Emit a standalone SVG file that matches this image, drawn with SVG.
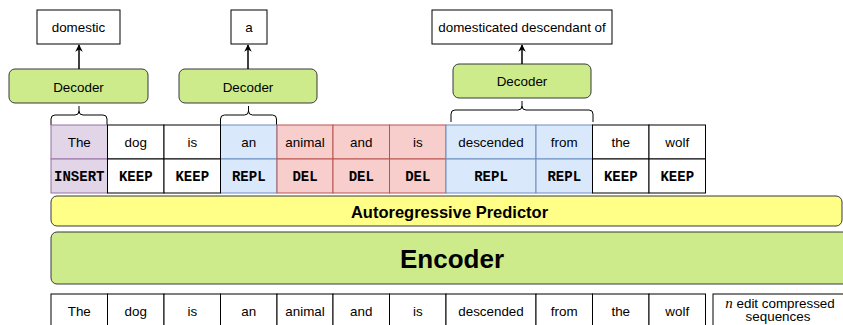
<svg xmlns="http://www.w3.org/2000/svg" width="843" height="325" viewBox="0 0 843 325">
  <style>
    .t { font-family: "Liberation Sans", Arial, sans-serif; font-size: 13.4px; fill: #000; text-anchor: middle; }
    .m { font-family: "Liberation Mono", "Courier New", monospace; font-size: 14px; font-weight: bold; fill: #000; text-anchor: middle; }
    .box { fill: #fff; stroke: #000; stroke-width: 1; }
    .dec { fill: #cdeb8b; stroke: #36393d; stroke-width: 1; }
    .pur { fill: #e1d5e7; stroke: #9673a6; stroke-width: 1; }
    .blu { fill: #dae8fc; stroke: #6c8ebf; stroke-width: 1; }
    .red { fill: #f8cecc; stroke: #b85450; stroke-width: 1; }
    .wht { fill: #fff; stroke: #000; stroke-width: 1; }
    .edge { fill: none; stroke: #000; stroke-width: 1.5; }
    .brace { fill: none; stroke: #000; stroke-width: 1; }
  </style>
  <defs>
    <marker id="arrow" viewBox="0 0 10 10" refX="9" refY="5" markerWidth="5" markerHeight="5" orient="auto" markerUnits="strokeWidth">
      <path d="M0,0 L10,5 L0,10 L3,5 Z" fill="#000"/>
    </marker>
  </defs>
  <rect width="843" height="325" fill="#fff"/>

  <!-- output boxes -->
  <g id="out-domestic">
    <rect class="box" x="37" y="10" width="83" height="34"/>
    <text class="t" x="78.5" y="32">domestic</text>
  </g>
  <g id="out-a">
    <rect class="box" x="231" y="10" width="36" height="34"/>
    <text class="t" x="249" y="32">a</text>
  </g>
  <g id="out-domesticated">
    <rect class="box" x="432" y="10" width="180" height="34"/>
    <text class="t" x="522" y="32">domesticated descendant of</text>
  </g>

  <!-- decoders -->
  <g id="decoder-1">
    <rect class="dec" x="9" y="69" width="139" height="34" rx="6"/>
    <text class="t" x="78.5" y="92">Decoder</text>
  </g>
  <g id="decoder-2">
    <rect class="dec" x="179" y="69" width="138" height="34" rx="6"/>
    <text class="t" x="248" y="92">Decoder</text>
  </g>
  <g id="decoder-3">
    <rect class="dec" x="453" y="64" width="138" height="34" rx="6"/>
    <text class="t" x="522" y="86">Decoder</text>
  </g>

  <!-- connectors -->
  <g id="connectors">
    <line class="edge" x1="79" y1="69" x2="79" y2="45" marker-end="url(#arrow)"/>
    <line class="edge" x1="248" y1="69" x2="248" y2="45" marker-end="url(#arrow)"/>
    <line class="edge" x1="522" y1="64" x2="522" y2="45" marker-end="url(#arrow)"/>
  </g>

  <!-- braces -->
  <g id="braces">
    <path class="brace" d="M51,125 V119 Q51,115 55,115 H75 Q79,115 79,111 V106 M79,111 Q79,115 83,115 H103 Q107,115 107,119 V125"/>
    <path class="brace" d="M220.5,125 V119 Q220.5,115 224.5,115 H244.5 Q248.5,115 248.5,111 V106 M248.5,111 Q248.5,115 252.5,115 H272.5 Q276.5,115 276.5,119 V125"/>
    <path class="brace" d="M451,122 V114 Q451,110 455,110 H518 Q522,110 522,106 V101 M522,106 Q522,110 526,110 H589 Q593,110 593,114 V122"/>
  </g>

  <!-- edit table -->
  <g id="edit-table">
    <rect class="pur" x="51" y="125" width="56.5" height="34"/>
    <rect class="pur" x="51" y="159" width="56.5" height="34"/>
    <rect class="blu" x="220.5" y="125" width="56.5" height="34"/>
    <rect class="blu" x="220.5" y="159" width="56.5" height="34"/>
    <rect class="red" x="277" y="125" width="56" height="34"/>
    <rect class="red" x="277" y="159" width="56" height="34"/>
    <rect class="red" x="333" y="125" width="56.5" height="34"/>
    <rect class="red" x="333" y="159" width="56.5" height="34"/>
    <rect class="red" x="389.5" y="125" width="56.5" height="34"/>
    <rect class="red" x="389.5" y="159" width="56.5" height="34"/>
    <rect class="blu" x="446" y="125" width="90" height="34"/>
    <rect class="blu" x="446" y="159" width="90" height="34"/>
    <rect class="blu" x="536" y="125" width="56.5" height="34"/>
    <rect class="blu" x="536" y="159" width="56.5" height="34"/>
    <rect class="wht" x="107.5" y="125" width="56.5" height="34"/>
    <rect class="wht" x="107.5" y="159" width="56.5" height="34"/>
    <rect class="wht" x="164" y="125" width="56.5" height="34"/>
    <rect class="wht" x="164" y="159" width="56.5" height="34"/>
    <rect class="wht" x="592.5" y="125" width="56.5" height="34"/>
    <rect class="wht" x="592.5" y="159" width="56.5" height="34"/>
    <rect class="wht" x="649" y="125" width="56.5" height="34"/>
    <rect class="wht" x="649" y="159" width="56.5" height="34"/>

    <text class="t" x="79.25" y="146.5">The</text>
    <text class="t" x="135.75" y="146.5">dog</text>
    <text class="t" x="192.25" y="146.5">is</text>
    <text class="t" x="248.75" y="146.5">an</text>
    <text class="t" x="305" y="146.5">animal</text>
    <text class="t" x="361.25" y="146.5">and</text>
    <text class="t" x="417.75" y="146.5">is</text>
    <text class="t" x="491" y="146.5">descended</text>
    <text class="t" x="564.25" y="146.5">from</text>
    <text class="t" x="620.75" y="146.5">the</text>
    <text class="t" x="677.25" y="146.5">wolf</text>

    <text class="m" x="79.25" y="180.5">INSERT</text>
    <text class="m" x="135.75" y="180.5">KEEP</text>
    <text class="m" x="192.25" y="180.5">KEEP</text>
    <text class="m" x="248.75" y="180.5">REPL</text>
    <text class="m" x="305" y="180.5">DEL</text>
    <text class="m" x="361.25" y="180.5">DEL</text>
    <text class="m" x="417.75" y="180.5">DEL</text>
    <text class="m" x="491" y="180.5">REPL</text>
    <text class="m" x="564.25" y="180.5">REPL</text>
    <text class="m" x="620.75" y="180.5">KEEP</text>
    <text class="m" x="677.25" y="180.5">KEEP</text>
  </g>

  <!-- autoregressive predictor -->
  <g id="predictor">
    <rect x="51" y="196" width="791" height="30" rx="6" fill="#ffff88" stroke="#36393d" stroke-width="1"/>
    <text x="449.5" y="217.5" font-family="Liberation Sans, Arial, sans-serif" font-size="16.5" font-weight="bold" text-anchor="middle">Autoregressive Predictor</text>
  </g>

  <!-- encoder -->
  <g id="encoder">
    <rect x="51" y="232" width="810" height="52" rx="6" fill="#cdeb8b" stroke="#36393d" stroke-width="1"/>
    <text x="452" y="267.5" font-family="Liberation Sans, Arial, sans-serif" font-size="26" font-weight="bold" text-anchor="middle">Encoder</text>
  </g>

  <!-- input sequence -->
  <g id="input-table">
    <rect class="wht" x="51" y="294" width="56.5" height="40"/>
    <rect class="wht" x="107.5" y="294" width="56.5" height="40"/>
    <rect class="wht" x="164" y="294" width="56.5" height="40"/>
    <rect class="wht" x="220.5" y="294" width="56.5" height="40"/>
    <rect class="wht" x="277" y="294" width="56" height="40"/>
    <rect class="wht" x="333" y="294" width="56.5" height="40"/>
    <rect class="wht" x="389.5" y="294" width="56.5" height="40"/>
    <rect class="wht" x="446" y="294" width="90" height="40"/>
    <rect class="wht" x="536" y="294" width="56.5" height="40"/>
    <rect class="wht" x="592.5" y="294" width="56.5" height="40"/>
    <rect class="wht" x="649" y="294" width="56.5" height="40"/>

    <text class="t" x="79.25" y="315.5">The</text>
    <text class="t" x="135.75" y="315.5">dog</text>
    <text class="t" x="192.25" y="315.5">is</text>
    <text class="t" x="248.75" y="315.5">an</text>
    <text class="t" x="305" y="315.5">animal</text>
    <text class="t" x="361.25" y="315.5">and</text>
    <text class="t" x="417.75" y="315.5">is</text>
    <text class="t" x="491" y="315.5">descended</text>
    <text class="t" x="564.25" y="315.5">from</text>
    <text class="t" x="620.75" y="315.5">the</text>
    <text class="t" x="677.25" y="315.5">wolf</text>
  </g>

  <g id="n-sequences">
    <rect class="wht" x="713" y="294" width="135" height="40"/>
    <text class="t" x="780" y="307.5"><tspan font-family="Liberation Serif, 'Times New Roman', serif" font-style="italic" font-size="15">n</tspan> edit compressed</text>
    <text class="t" x="778" y="321">sequences</text>
  </g>
</svg>
